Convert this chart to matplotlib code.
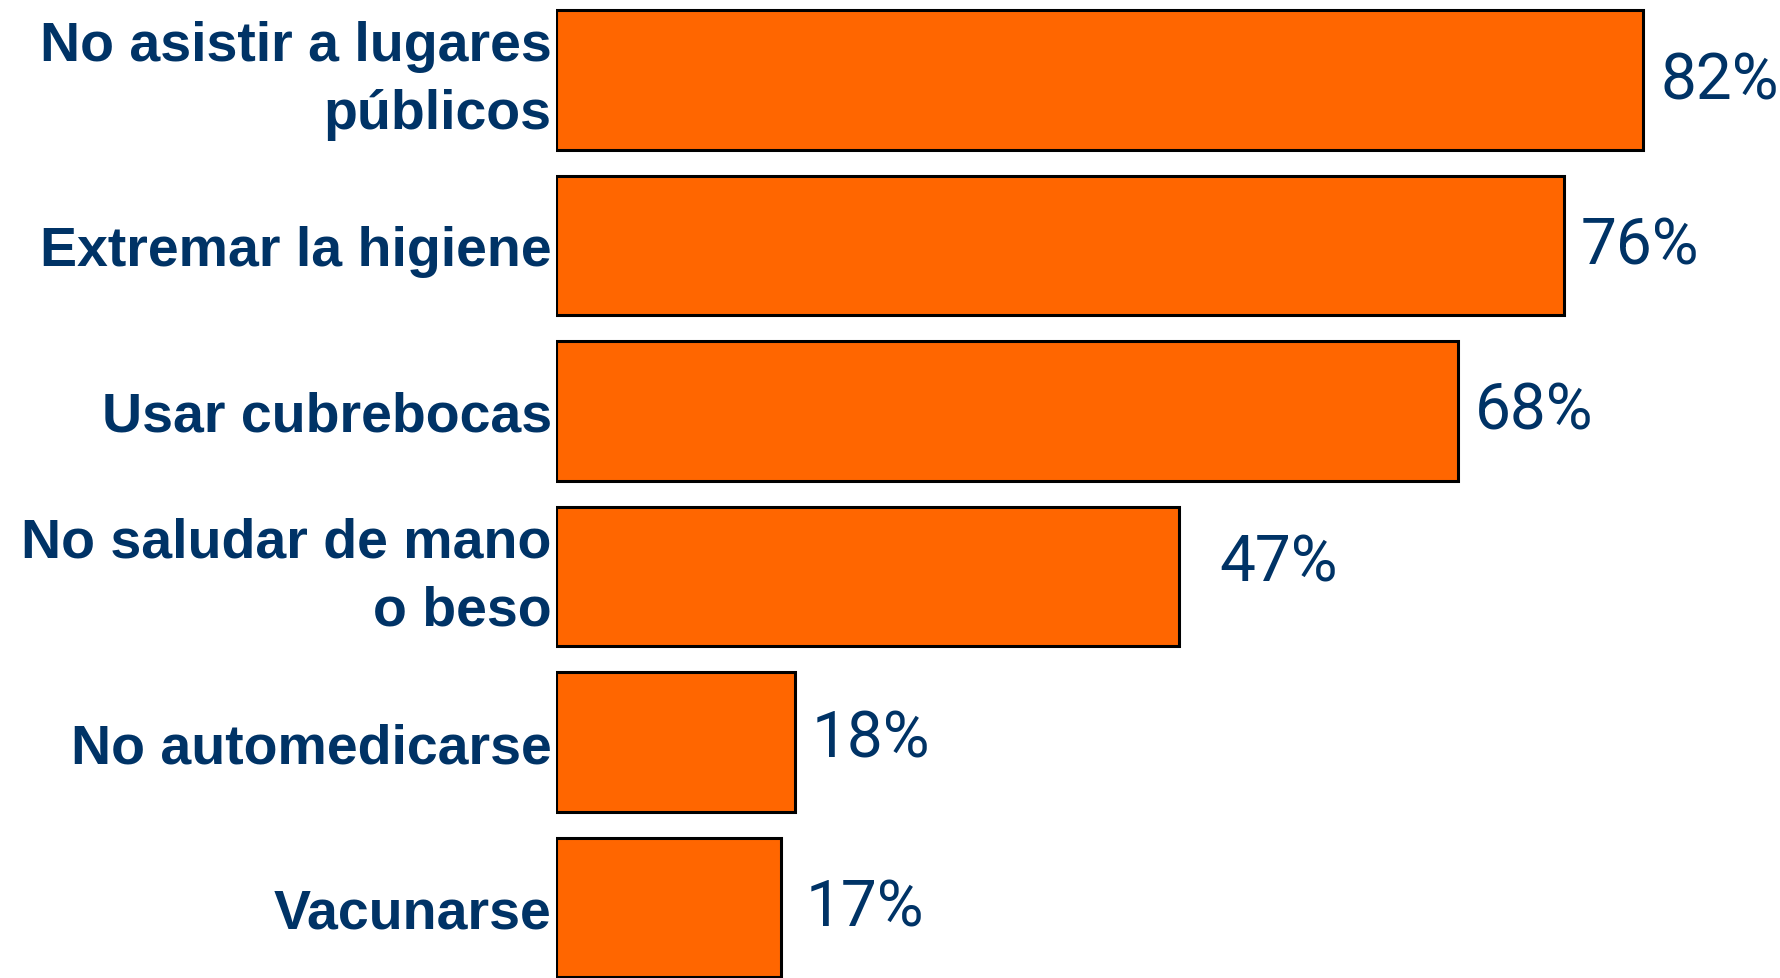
import matplotlib
matplotlib.use('Agg')
import matplotlib.pyplot as plt
import matplotlib.transforms as mtransforms

# datos
categorias = ['No asistir a lugares\npúblicos', 'Extremar la higiene', 'Usar cubrebocas',
              'No saludar de mano\no beso', 'No automedicarse', 'Vacunarse']
valores = [82, 76, 68, 47, 18, 17]

# desplazamiento de las etiquetas de porcentaje (px)
dx = [17, 17, 17, 40, 17, 24]
dy = [0, 0, 0, 14, 4, 0]

naranja = '#FF6600'
azul = '#003366'

fig = plt.figure(figsize=(17.8, 9.79), dpi=100)
ax = fig.add_axes([556 / 1780, 0, 1 - 556 / 1780, 1])

pos = list(range(len(valores)))
ax.barh(pos, valores, height=0.84, color=naranja, edgecolor='black', linewidth=2.2)

paso = 165.5
ax.set_xlim(0, (1780 - 556) / 13.26)
ax.set_ylim((979 - 81) / paso, -81 / paso)

ax.set_yticks(pos)
ax.set_yticklabels(categorias, fontsize=40, fontweight='bold', color=azul,
                   family=['Liberation Sans', 'DejaVu Sans'])
for lab in ax.get_yticklabels():
    lab.set_linespacing(1.38)
    if '\n' in lab.get_text():
        lab.set_va('center')
ax.tick_params(axis='y', length=0, pad=3)
ax.set_xticks([])
for s in ax.spines.values():
    s.set_visible(False)

for i, v in enumerate(valores):
    off = mtransforms.offset_copy(ax.transData, fig=fig, x=dx[i] * 0.72, y=dy[i] * 0.72,
                                  units='points')
    ax.text(v, i, '{}%'.format(v), transform=off, va='center', ha='left',
            fontsize=46, color=azul, family=['Roboto', 'DejaVu Sans'])

fig.savefig('out.png', dpi=100)
